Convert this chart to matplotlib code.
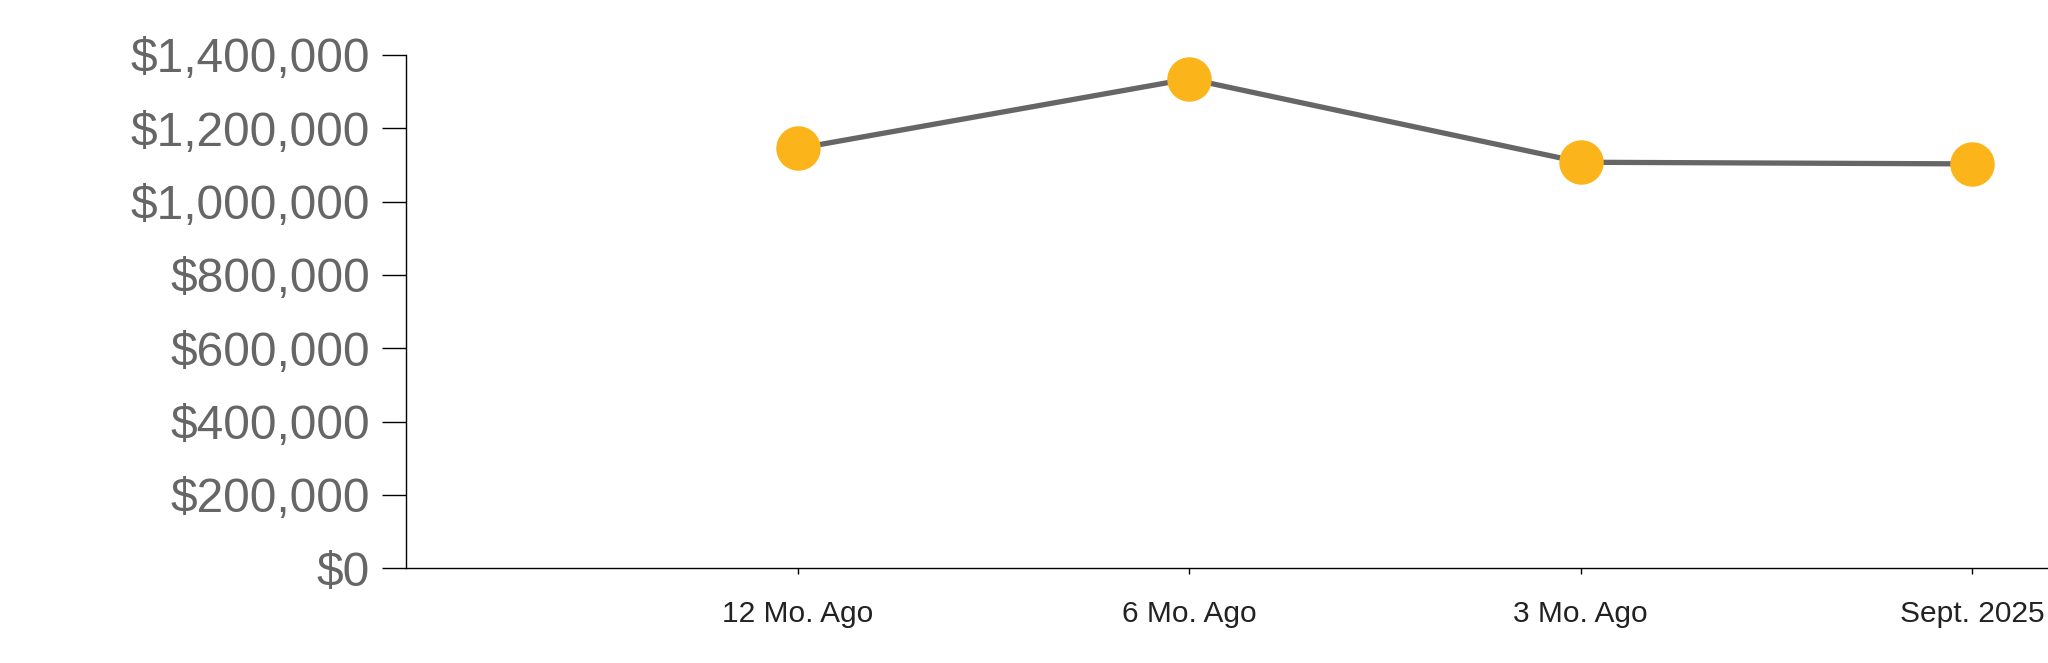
import matplotlib
matplotlib.use("Agg")
import matplotlib.pyplot as plt
from matplotlib.ticker import FuncFormatter

categories = ["12 Mo. Ago", "6 Mo. Ago", "3 Mo. Ago", "Sept. 2025"]
values = [1145000, 1335000, 1107500, 1103000]
y_ticks = [0, 200000, 400000, 600000, 800000, 1000000, 1200000, 1400000]

plt.rcParams['font.family'] = ['Liberation Sans', 'DejaVu Sans']

fig = plt.figure(figsize=(20.48, 6.63), dpi=100)
ax = fig.add_axes([406 / 2048, (663 - 568.3) / 663, 1 - 406 / 2048, (568.3 - 55) / 663])

x = list(range(1, len(categories) + 1))
ax.plot(x, values, color='#666666', linewidth=3.8, zorder=2, solid_capstyle='butt')
ax.plot(x, values, linestyle='none', marker='o', markersize=31,
        markerfacecolor='#FBB41A', markeredgecolor='#FBB41A', zorder=3, clip_on=False)

ax.set_xlim(0, (2048 - 406) / 391.6)
ax.set_ylim(0, 1400000)
ax.set_xticks(x)
ax.set_xticklabels(categories)
ax.set_yticks(y_ticks)
ax.yaxis.set_major_formatter(FuncFormatter(lambda v, p: "${:,.0f}".format(v)))

for s in ['top', 'right']:
    ax.spines[s].set_visible(False)
for s in ['left', 'bottom']:
    ax.spines[s].set_color('black')
    ax.spines[s].set_linewidth(1.0)

ax.tick_params(axis='y', length=17.3, width=1.0, color='black', pad=8.6,
               labelsize=34.5, labelcolor='#666666')
ax.tick_params(axis='x', length=4.3, width=1.0, color='black', pad=18.5,
               labelsize=21.5, labelcolor='#222222')

fig.savefig("out.png", dpi=100)
